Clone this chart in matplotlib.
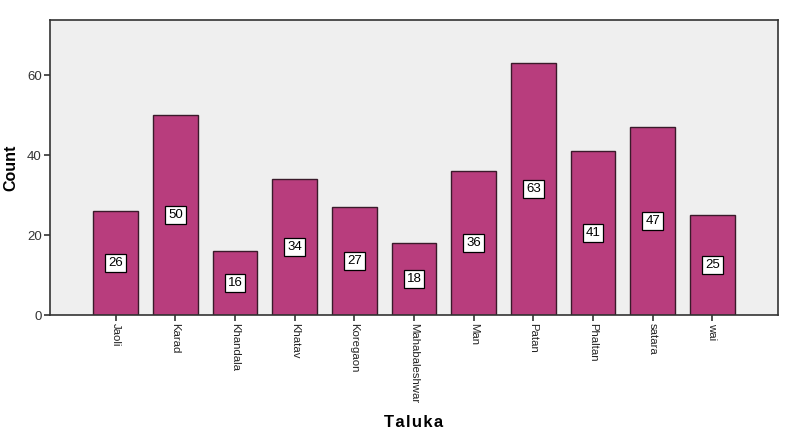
import matplotlib.pyplot as plt

plt.rcParams['font.family'] = ['Liberation Sans', 'DejaVu Sans']

talukas = ['Jaoli', 'Karad', 'Khandala', 'Khatav', 'Koregaon', 'Mahabaleshwar',
           'Man', 'Patan', 'Phaltan', 'satara', 'wai']
counts = [26, 50, 16, 34, 27, 18, 36, 63, 41, 47, 25]
yticks = [0, 20, 40, 60]

fig = plt.figure(figsize=(7.86, 4.38), dpi=100)
ax = fig.add_axes([50/786, 123/438, 728/786, 295/438])
ax.set_facecolor('#efefef')

x = list(range(len(talukas)))
ax.bar(x, counts, width=0.75, color='#b83d7d', edgecolor='#3a1a2a', linewidth=1.0, zorder=2)

# count labels in the middle of each bar
for xi, c in zip(x, counts):
    ax.text(xi, c / 2, str(c), ha='center', va='center', fontsize=9.5, color='black', zorder=3,
            bbox=dict(boxstyle='square,pad=0.22', facecolor='white', edgecolor='black', linewidth=0.9))

ax.set_xlim(-1.1, 11.1)
ax.set_ylim(0, 73.75)
ax.set_xticks(x)
ax.set_xticklabels(talukas, rotation=270, fontsize=8.2, color='#222222')
ax.set_yticks(yticks)
ax.set_yticklabels([str(v) for v in yticks], fontsize=9.5, color='#333333')
ax.tick_params(axis='both', length=4, width=1.2, color='#333333', pad=2)

for s in ax.spines.values():
    s.set_color('#333333')
    s.set_linewidth(1.2)

ax.set_ylabel('Count', fontsize=11.5, fontweight='bold', labelpad=6)
ax.set_xlabel('T\u200aa\u200al\u200au\u200ak\u200aa', fontsize=12, fontweight='bold')
ax.xaxis.set_label_coords(0.5, -0.34)

plt.savefig('out.png', dpi=100)
